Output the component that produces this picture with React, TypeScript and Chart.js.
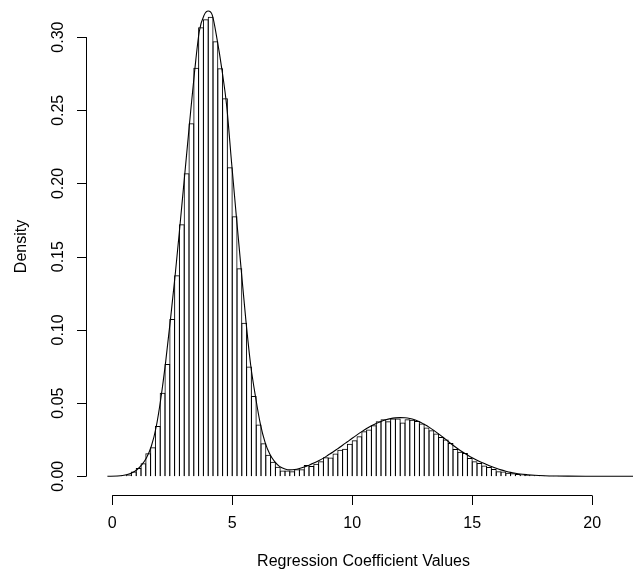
import React, { useEffect, useRef } from "react";
import { Chart, registerables } from "chart.js";

Chart.register(...registerables);

// Histogram: bins of width 0.2 starting at 0 (density scale)
const BIN_START = 0;
const BIN_WIDTH = 0.2;
const histDensity = [
  0.0001, 0.0003, 0.0006, 0.0012, 0.0032, 0.0057, 0.0089, 0.0157, 0.0198, 0.0344,
  0.0571, 0.0767, 0.1074, 0.1373, 0.1721, 0.2070, 0.2411, 0.2791, 0.3067, 0.3122,
  0.3139, 0.2971, 0.2787, 0.2582, 0.2111, 0.1776, 0.1421, 0.1049, 0.0750, 0.0549,
  0.0353, 0.0225, 0.0148, 0.0100, 0.0066, 0.0039, 0.0039, 0.0034, 0.0048, 0.0048,
  0.0078, 0.0071, 0.0085, 0.0102, 0.0130, 0.0128, 0.0155, 0.0182, 0.0189, 0.0223,
  0.0246, 0.0273, 0.0307, 0.0319, 0.0348, 0.0376, 0.0389, 0.0376, 0.0394, 0.0394,
  0.0367, 0.0389, 0.0387, 0.0378, 0.0360, 0.0333, 0.0314, 0.0292, 0.0268, 0.0251,
  0.0227, 0.0187, 0.0168, 0.0159, 0.0125, 0.0102, 0.0091, 0.0073, 0.0064, 0.0050,
  0.0034, 0.0032, 0.0025, 0.0020, 0.0016, 0.0013, 0.0010, 0.0008, 0.0006, 0.0005,
  0.0004, 0.0003, 0.0003, 0.0002, 0.0002, 0.0001, 0.0001, 0.0001, 0.0001, 0.0001,
  0.0001, 0, 0.0001, 0, 0, 0.0001,
];

// Kernel density curve
const curveX = [
  -0.2, 0.23, 0.43, 0.63, 0.83, 1.03, 1.23, 1.43, 1.63, 1.83,
  2.03, 2.23, 2.43, 2.63, 2.83, 3.03, 3.23, 3.43, 3.63, 3.83,
  4.0, 4.17, 4.37, 4.57, 4.77, 4.97, 5.17, 5.37, 5.57, 5.77,
  5.97, 6.17, 6.37, 6.57, 6.77, 6.97, 7.2, 7.4, 7.6, 7.8,
  8.0, 8.2, 8.4, 8.6, 8.8, 9.0, 9.2, 9.4, 9.6, 9.8,
  10.0, 10.2, 10.4, 10.6, 10.8, 11.0, 11.2, 11.4, 11.6, 11.8,
  12.0, 12.2, 12.4, 12.6, 12.8, 13.0, 13.2, 13.4, 13.6, 13.8,
  14.0, 14.2, 14.4, 14.6, 14.8, 15.0, 15.2, 15.4, 15.6, 15.8,
  16.0, 16.2, 16.4, 16.6, 16.8, 17.0, 17.3, 17.6, 18.0, 18.5,
  19.0, 20.0, 21.0, 22.0,
];
const curveY = [
  0, 0.0002, 0.0005, 0.0012, 0.0025, 0.0045, 0.0078, 0.0127, 0.0205, 0.0335,
  0.0535, 0.0785, 0.1075, 0.1385, 0.1725, 0.2075, 0.2425, 0.2760, 0.3040, 0.3150,
  0.3178, 0.3150, 0.2985, 0.2780, 0.2530, 0.2150, 0.1780, 0.1420, 0.1065, 0.0760,
  0.0545, 0.0360, 0.0232, 0.0150, 0.0100, 0.0068, 0.0050, 0.0044, 0.0046, 0.0053,
  0.0063, 0.0076, 0.0090, 0.0106, 0.0124, 0.0145, 0.0166, 0.0189, 0.0212, 0.0236,
  0.0260, 0.0283, 0.0305, 0.0326, 0.0345, 0.0361, 0.0375, 0.0386, 0.0394, 0.0399,
  0.0401, 0.0400, 0.0395, 0.0386, 0.0373, 0.0355, 0.0336, 0.0314, 0.0290, 0.0265,
  0.0238, 0.0212, 0.0188, 0.0166, 0.0146, 0.0127, 0.0110, 0.0095, 0.0081, 0.0067,
  0.0055, 0.0044, 0.0035, 0.0027, 0.0021, 0.0016, 0.0011, 0.0007, 0.0004, 0.0002,
  0.0001, 0.00005, 0.00002, 0,
];

const xTicks = [0, 5, 10, 15, 20];
const xTickLabels = ["0", "5", "10", "15", "20"];
const yTicks = [0, 0.05, 0.1, 0.15, 0.2, 0.25, 0.3];
const yTickLabels = ["0.00", "0.05", "0.10", "0.15", "0.20", "0.25", "0.30"];
const xTitle = "Regression Coefficient Values";
const yTitle = "Density";

const FONT = '16px "Liberation Sans", Arial, Helvetica, sans-serif';

const rAxesPlugin = {
  id: "rAxes",
  afterDraw(chart: any) {
    const { ctx, chartArea, scales } = chart;
    const xs = scales.x;
    const ys = scales.y;
    ctx.save();
    ctx.strokeStyle = "#000";
    ctx.fillStyle = "#000";
    ctx.lineWidth = 1;
    ctx.font = FONT;

    // y axis (spans first to last tick, R style)
    const ax = Math.round(chartArea.left) + 0.5;
    ctx.beginPath();
    ctx.moveTo(ax, ys.getPixelForValue(yTicks[0]));
    ctx.lineTo(ax, ys.getPixelForValue(yTicks[yTicks.length - 1]));
    yTicks.forEach((v) => {
      const p = Math.round(ys.getPixelForValue(v)) + 0.5;
      ctx.moveTo(ax, p);
      ctx.lineTo(ax - 9.5, p);
    });
    ctx.stroke();
    ctx.textAlign = "center";
    ctx.textBaseline = "middle";
    yTicks.forEach((v, i) => {
      const p = ys.getPixelForValue(v);
      ctx.save();
      ctx.translate(59, p);
      ctx.rotate(-Math.PI / 2);
      ctx.fillText(yTickLabels[i], 0, 0);
      ctx.restore();
    });

    // x axis
    const ay = Math.round(chartArea.bottom) + 0.5;
    ctx.beginPath();
    ctx.moveTo(xs.getPixelForValue(xTicks[0]), ay);
    ctx.lineTo(xs.getPixelForValue(xTicks[xTicks.length - 1]), ay);
    xTicks.forEach((v) => {
      const p = Math.round(xs.getPixelForValue(v)) + 0.5;
      ctx.moveTo(p, ay);
      ctx.lineTo(p, ay + 9.5);
    });
    ctx.stroke();
    xTicks.forEach((v, i) => {
      ctx.fillText(xTickLabels[i], xs.getPixelForValue(v), 524);
    });

    // titles
    const midX = (chartArea.left + 641) / 2;
    ctx.fillText(xTitle, midX, 562);
    ctx.save();
    ctx.translate(21.5, 246.5);
    ctx.rotate(-Math.PI / 2);
    ctx.fillText(yTitle, 0, 0);
    ctx.restore();
    ctx.restore();
  },
};

export default function App() {
  const canvasRef = useRef<HTMLCanvasElement | null>(null);

  useEffect(() => {
    const canvas = canvasRef.current;
    if (!canvas) return;

    const bars = histDensity.map((d, i) => ({
      x: BIN_START + BIN_WIDTH * (i + 0.5),
      y: d,
    }));
    const curve = curveX.map((x, i) => ({ x, y: curveY[i] }));

    // pixel geometry of the R plot region
    const left = 86;
    const bottom = 494.5;
    const pxPerX = 24;
    const zeroX = 112.2;
    const pxPerY = 1464;
    const zeroY = 476.3;
    const W = 633;
    const H = 578;
    // widen each bar by one pixel so neighbouring inner borders coincide,
    // giving a single 1px outline centred on each bin edge (like R's rect)
    const binPx = BIN_WIDTH * pxPerX;
    const barPct = (binPx + 1) / binPx;

    const chart = new Chart(canvas, {
      type: "bar",
      data: {
        datasets: [
          {
            type: "line",
            data: curve,
            borderColor: "#000",
            borderWidth: 1.1,
            pointRadius: 0,
            fill: false,
            cubicInterpolationMode: "monotone",
            order: 0,
          } as any,
          {
            type: "bar",
            data: bars,
            backgroundColor: "rgba(0,0,0,0)",
            borderColor: "#000",
            borderWidth: { top: 1, left: 1, right: 1, bottom: 0 },
            borderSkipped: false,
            barPercentage: barPct,
            categoryPercentage: 1,
            inflateAmount: 0,
            order: 1,
          } as any,
        ],
      },
      options: {
        responsive: false,
        animation: false,
        devicePixelRatio: 1,
        layout: {
          padding: { left: left, right: 0, top: 0, bottom: H - bottom },
        },
        plugins: {
          legend: { display: false },
          tooltip: { enabled: false },
        },
        events: [],
        scales: {
          x: {
            type: "linear",
            display: false,
            offset: false,
            min: (left - zeroX) / pxPerX,
            max: (W - zeroX) / pxPerX,
            grid: { offset: false },
          },
          y: {
            type: "linear",
            display: false,
            min: -(bottom - zeroY) / pxPerY,
            max: zeroY / pxPerY,
          },
        },
      } as any,
      plugins: [rAxesPlugin],
    });

    return () => {
      chart.destroy();
    };
  }, []);

  return (
    <div
      style={{
        position: "absolute",
        left: 0,
        top: 0,
        width: 633,
        height: 578,
        background: "#fff",
      }}
    >
      <canvas
        ref={canvasRef}
        width={633}
        height={578}
        style={{ width: 633, height: 578, display: "block" }}
      />
    </div>
  );
}
